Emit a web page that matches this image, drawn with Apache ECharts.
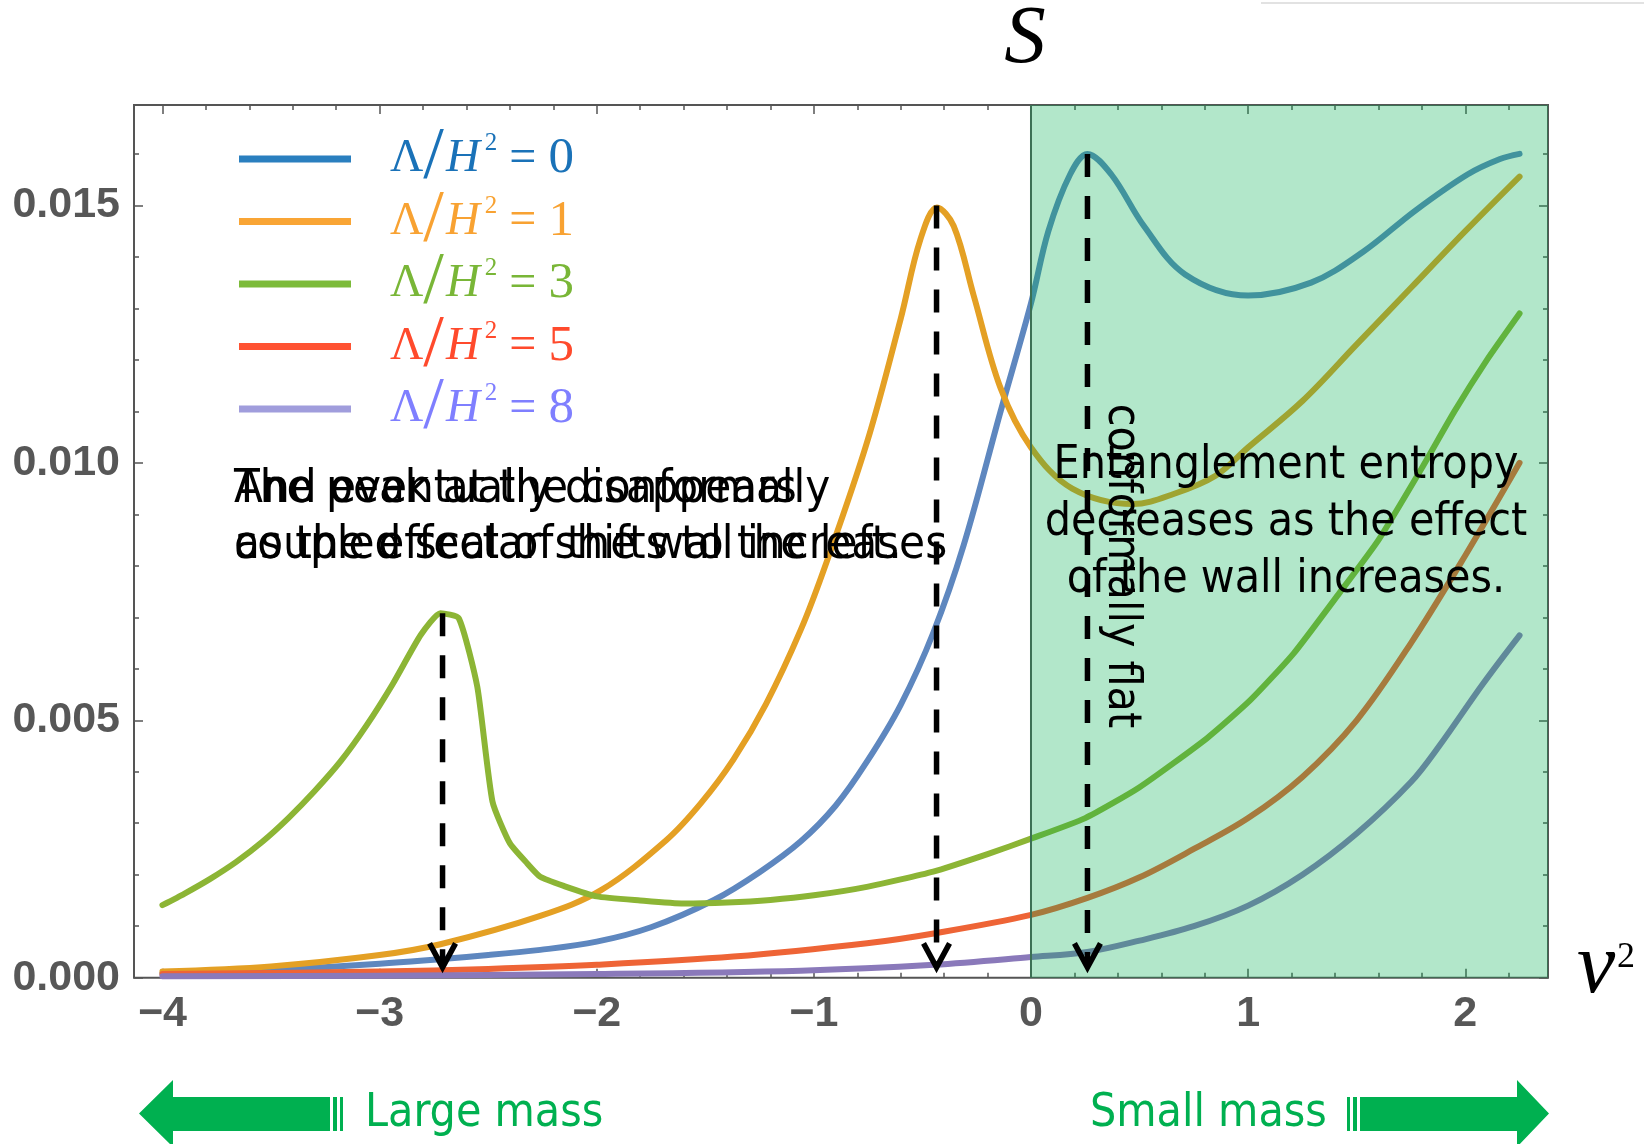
<!DOCTYPE html>
<html>
<head>
<meta charset="utf-8">
<script src="https://cdn.jsdelivr.net/npm/echarts@6/dist/echarts.min.js"></script>
<style>
html,body{margin:0;padding:0;background:#ffffff;}
#chart{width:1644px;height:1144px;}
</style>
</head>
<body>
<div id="chart"></div>
<script>
// ---------------- data ----------------
const lambdaValues = ['0', '1', '3', '5', '8'];
const seriesNames = ['Λ/H²=0', 'Λ/H²=1', 'Λ/H²=3', 'Λ/H²=5', 'Λ/H²=8'];

const blueX = [-4, -3.5, -3, -2.5, -2.26, -2, -1.75, -1.46, -1.25, -1.06, -0.9, -0.755, -0.6, -0.45, -0.31, -0.14, 0, 0.08, 0.18, 0.26, 0.37, 0.52, 0.71, 1.0, 1.29, 1.53, 1.77, 2.01, 2.16, 2.25];
const blueY = [0.00008, 0.00015, 0.00027, 0.00044, 0.00054, 0.0007, 0.00098, 0.00151, 0.00205, 0.00265, 0.00334, 0.0042, 0.0053, 0.0067, 0.0084, 0.0110, 0.0131, 0.0145, 0.0156, 0.0160, 0.0156, 0.0146, 0.01366, 0.01325, 0.0135, 0.0141, 0.0149, 0.0156, 0.0159, 0.0160];

const orangeX = [-4, -3.5, -3, -2.72, -2.26, -1.98, -1.68, -1.52, -1.37, -1.22, -1.06, -0.94, -0.755, -0.6, -0.51, -0.433, -0.356, -0.264, -0.14, 0, 0.19, 0.47, 0.66, 0.85, 1.0, 1.25, 1.5, 1.75, 2.0, 2.25];
const orangeY = [0.00012, 0.00022, 0.00044, 0.00065, 0.0012, 0.0017, 0.00267, 0.00339, 0.00424, 0.00532, 0.00676, 0.00809, 0.0104, 0.0128, 0.01433, 0.01496, 0.0146, 0.01325, 0.01145, 0.0103, 0.0095, 0.0092, 0.0094, 0.00975, 0.0103, 0.0112, 0.0123, 0.0134, 0.0145, 0.01556];

const greenX = [-4, -3.9, -3.78, -3.66, -3.54, -3.42, -3.3, -3.18, -3.06, -2.94, -2.81, -2.72, -2.635, -2.55, -2.48, -2.40, -2.32, -2.26, -2.15, -2.0, -1.8, -1.6, -1.4, -1.2, -1.0, -0.75, -0.45, -0.2, 0, 0.25, 0.5, 0.81, 1.01, 1.21, 1.42, 1.6, 1.8, 1.95, 2.1, 2.25];
const greenY = [0.00141, 0.00163, 0.00192, 0.00225, 0.00264, 0.0031, 0.00362, 0.0042, 0.0049, 0.0057, 0.00666, 0.00708, 0.00698, 0.00565, 0.00342, 0.00261, 0.00222, 0.00196, 0.00178, 0.00158, 0.0015, 0.00144, 0.00146, 0.00151, 0.0016, 0.00177, 0.00206, 0.0024, 0.0027, 0.0031, 0.0037, 0.00465, 0.00539, 0.0063, 0.00747, 0.0085, 0.0099, 0.0110, 0.0120, 0.0129];

const redX = [-4, -3, -2.5, -2, -1.37, -0.755, -0.448, 0, 0.26, 0.5, 0.75, 1.0, 1.25, 1.5, 1.75, 2.0, 2.25];
const redY = [0.00007, 0.00012, 0.00017, 0.00025, 0.00041, 0.00067, 0.00086, 0.00122, 0.00155, 0.00195, 0.0025, 0.0031, 0.0039, 0.0050, 0.0065, 0.0082, 0.0100];

const purpleX = [-4, -3, -2, -1.06, -0.448, 0, 0.26, 0.5, 0.75, 1.0, 1.25, 1.5, 1.75, 1.88, 2.08, 2.25];
const purpleY = [0.00003, 0.00004, 0.00007, 0.000136, 0.00025, 0.0004, 0.0005, 0.00072, 0.001, 0.0014, 0.002, 0.0028, 0.0038, 0.0045, 0.0057, 0.00665];

// dashed arrows: x position, peak value, tip value
const arrowX = [-2.71, -0.435, 0.26];
const arrowTop = [0.00708, 0.0150, 0.0160];
const arrowTip = [0.0002, 0.0002, 0.0002];

// shaded region starts at
const shadeFrom = [0];

// axis ticks
const xTickLabels = [-4, -3, -2, -1, 0, 1, 2];
const yTickLabels = [0, 0.005, 0.010, 0.015];

// ---------------- styling ----------------
const xMin = -4.131, xMax = 2.381, yMin = 0, yMax = 0.01695;
const lineColors = ['#5e87bf', '#e4a024', '#8cb535', '#ee6436', '#8a79ba'];
const legendLineColors = ['#2a7fbf', '#f9a535', '#7cbb3a', '#ff5232', '#a09ddc'];
const legendTextColors = ['#1a72b8', '#f8a232', '#79b637', '#ff4a2c', '#7f7fff'];

const xMinor = [];
for (let k = -20; k <= 11; k++) { if (k % 5 !== 0) xMinor.push(+(k * 0.2).toFixed(1)); }
const yMinor = [];
for (let k = 1; k <= 16; k++) { if (k % 5 !== 0) yMinor.push(+(k * 0.001).toFixed(3)); }

const SERIF = "'Liberation Serif', 'Times New Roman', Times, serif";
const SANS = "'Liberation Sans', Arial, sans-serif";
const NOTE = "'DejaVu Sans Condensed', 'DejaVu Sans', sans-serif";

function zip(xs, ys) { return xs.map((x, i) => [x, ys[i]]); }

function richFor(color) {
  return {
    L: { fontFamily: SERIF, fontSize: 46, color: color, padding: [0, 0, 0, 34], lineHeight: 56 },
    s: { fontFamily: SERIF, fontSize: 74, color: color, lineHeight: 56 },
    H: { fontFamily: SERIF, fontStyle: 'italic', fontSize: 47, color: color, lineHeight: 56, padding: [0, 0, 0, 2] },
    p: { fontFamily: SERIF, fontSize: 25, color: color, verticalAlign: 'top', lineHeight: 30, padding: [0, 0, 0, 5] },
    e: { fontFamily: SERIF, fontSize: 48, color: color, lineHeight: 56 },
    n: { fontFamily: SERIF, fontSize: 51, color: color, lineHeight: 56 }
  };
}

function xAxisDef(position, values, len, labels) {
  return {
    type: 'value', position: position, min: xMin, max: xMax, gridIndex: 0,
    axisLine: { show: false, onZero: false }, splitLine: { show: false },
    axisTick: { show: true, inside: true, length: len, customValues: values, lineStyle: { color: '#555', width: 1.5 } },
    axisLabel: labels ? {
      show: true, customValues: xTickLabels, margin: 15,
      fontFamily: SANS, fontWeight: 'bold', fontSize: 43, color: '#575757',
      formatter: v => (v < 0 ? '\u2212' + Math.abs(v) : String(v))
    } : { show: false }
  };
}
function yAxisDef(position, values, len, labels) {
  return {
    type: 'value', position: position, min: yMin, max: yMax, gridIndex: 0,
    axisLine: { show: false, onZero: false }, splitLine: { show: false },
    axisTick: { show: true, inside: true, length: len, customValues: values, lineStyle: { color: '#555', width: 1.5 } },
    axisLabel: labels ? {
      show: true, customValues: yTickLabels, margin: 14,
      fontFamily: SANS, fontWeight: 'bold', fontSize: 43, color: '#575757',
      formatter: v => v.toFixed(3)
    } : { show: false }
  };
}

const seriesData = [zip(blueX, blueY), zip(orangeX, orangeY), zip(greenX, greenY), zip(redX, redY), zip(purpleX, purpleY)];
const smoothing = [0.35, 0.35, 0.18, 0.35, 0.35];

const lineSeries = seriesData.map((d, i) => ({
  type: 'line', name: seriesNames[i], data: d, xAxisIndex: 0, yAxisIndex: 0,
  showSymbol: false, symbol: 'none', smooth: smoothing[i], z: 2,
  lineStyle: { color: lineColors[i], width: 6, join: 'round', cap: 'round' },
  itemStyle: { color: lineColors[i] },
  emphasis: { disabled: true }, silent: true
}));

const shadeSeries = {
  type: 'custom', name: 'shade', xAxisIndex: 0, yAxisIndex: 0, z: 5, silent: true,
  data: shadeFrom.map(v => [v, 0]),
  encode: { x: 0, y: 1 },
  renderItem: function (params, api) {
    const cs = params.coordSys;
    const p = api.coord([api.value(0), 0]);
    const right = cs.x + cs.width;
    return {
      type: 'group', children: [
        { type: 'rect', shape: { x: p[0], y: cs.y, width: right - p[0], height: cs.height }, style: { fill: 'rgba(0,176,80,0.3)' } },
        { type: 'line', shape: { x1: p[0], y1: cs.y, x2: p[0], y2: cs.y + cs.height }, style: { stroke: '#3c7054', lineWidth: 2 } }
      ]
    };
  }
};

const arrowSeries = {
  type: 'custom', name: 'arrows', xAxisIndex: 0, yAxisIndex: 0, z: 8, silent: true,
  data: arrowX.map((x, i) => [x, arrowTop[i], arrowTip[i]]),
  encode: { x: 0, y: [1, 2] },
  renderItem: function (params, api) {
    const top = api.coord([api.value(0), api.value(1)]);
    const tip = api.coord([api.value(0), api.value(2)]);
    return {
      type: 'group', children: [
        { type: 'line', shape: { x1: top[0], y1: top[1], x2: tip[0], y2: tip[1] - 3 },
          style: { stroke: '#000', lineWidth: 5.5, lineDash: [23, 19], lineCap: 'butt' } },
        { type: 'polyline', shape: { points: [[tip[0] - 13, tip[1] - 24], [tip[0], tip[1]], [tip[0] + 13, tip[1] - 24]] },
          style: { stroke: '#000', lineWidth: 5.5, fill: null, lineJoin: 'miter' } }
      ]
    };
  }
};

const G = '#00b050';
const graphics = [
  { type: 'line', shape: { x1: 1261, y1: 3, x2: 1644, y2: 3 }, style: { stroke: '#e2e2e2', lineWidth: 2 }, z: 1 },
  { type: 'text', x: 1025, y: 40, z: 100, style: { text: 'S', fontFamily: SERIF, fontStyle: 'italic', fontSize: 83, fill: '#000', align: 'center', verticalAlign: 'middle' } },
  { type: 'text', x: 1577, y: 969, z: 100, style: { text: 'ν', fontFamily: SERIF, fontStyle: 'italic', fontSize: 86, fill: '#000', align: 'left', verticalAlign: 'middle' } },
  { type: 'text', x: 1617, y: 958, z: 100, style: { text: '2', fontFamily: SERIF, fontSize: 36, fill: '#000', align: 'left', verticalAlign: 'middle' } },
  { type: 'text', x: 234, y: 462, z: 100, style: { text: 'The peak at the conformally\ncoupled scalar shifts to the left.', fontFamily: NOTE, fontSize: 47, lineHeight: 56, fill: '#000', align: 'left', verticalAlign: 'top' } },
  { type: 'text', x: 234, y: 462, z: 100, style: { text: 'And eventually disappears\nas the effect of the wall increases', fontFamily: NOTE, fontSize: 47, lineHeight: 56, fill: '#000', align: 'left', verticalAlign: 'top' } },
  { type: 'text', x: 1286, y: 438, z: 100, style: { text: 'Entanglement entropy\ndecreases as the effect\nof the wall increases.', fontFamily: NOTE, fontSize: 46, lineHeight: 56.7, fill: '#000', align: 'center', verticalAlign: 'top' } },
  { type: 'text', x: 1121, y: 566, rotation: -Math.PI / 2, z: 100, style: { text: 'conformally flat', fontFamily: NOTE, fontSize: 46, fill: '#000', align: 'center', verticalAlign: 'middle' } },
  // bottom arrows
  { type: 'polygon', z: 50, shape: { points: [[139, 1113.5], [173, 1080], [173, 1097], [330, 1097], [330, 1131], [173, 1131], [173, 1147]] }, style: { fill: G } },
  { type: 'rect', z: 50, shape: { x: 333, y: 1097, width: 4, height: 34 }, style: { fill: G } },
  { type: 'rect', z: 50, shape: { x: 340, y: 1097, width: 3, height: 34 }, style: { fill: G } },
  { type: 'text', x: 365, y: 1114, z: 100, style: { text: 'Large mass', fontFamily: NOTE, fontSize: 46, fill: G, align: 'left', verticalAlign: 'middle' } },
  { type: 'text', x: 1090, y: 1114, z: 100, style: { text: 'Small mass', fontFamily: NOTE, fontSize: 46, fill: G, align: 'left', verticalAlign: 'middle' } },
  { type: 'rect', z: 50, shape: { x: 1347, y: 1097, width: 3, height: 34 }, style: { fill: G } },
  { type: 'rect', z: 50, shape: { x: 1353, y: 1097, width: 4, height: 34 }, style: { fill: G } },
  { type: 'polygon', z: 50, shape: { points: [[1549, 1113.5], [1517, 1080], [1517, 1097], [1360, 1097], [1360, 1131], [1517, 1131], [1517, 1147]] }, style: { fill: G } }
];

const chart = echarts.init(document.getElementById('chart'), null, { renderer: 'canvas' });
chart.setOption({
  animation: false,
  backgroundColor: '#ffffff',
  grid: { left: 134, top: 105, width: 1414, height: 872.7, show: true, borderColor: '#555', borderWidth: 2, backgroundColor: 'transparent', containLabel: false, outerBoundsMode: 'none' },
  xAxis: [
    xAxisDef('bottom', xTickLabels, 9, true),
    xAxisDef('bottom', xMinor, 5, false),
    xAxisDef('top', xTickLabels, 9, false),
    xAxisDef('top', xMinor, 5, false)
  ],
  yAxis: [
    yAxisDef('left', yTickLabels, 9, true),
    yAxisDef('left', yMinor, 5, false),
    yAxisDef('right', yTickLabels, 9, false),
    yAxisDef('right', yMinor, 5, false)
  ],
  legend: {
    show: true, orient: 'vertical', left: 239, top: 122, padding: 0,
    itemWidth: 112, itemHeight: 7, itemGap: -11.5, selectedMode: false, icon: 'rect',
    data: seriesNames.map((n, i) => ({
      name: n, icon: 'rect',
      itemStyle: { color: legendLineColors[i], borderWidth: 0 },
      textStyle: { color: legendTextColors[i], rich: richFor(legendTextColors[i]) }
    })),
    formatter: function (name) {
      const i = seriesNames.indexOf(name);
      return '{L|Λ}{s|/}{H|H}{p|2}{e| = }{n|' + lambdaValues[i] + '}';
    }
  },
  graphic: graphics,
  series: lineSeries.concat([shadeSeries, arrowSeries])
});
</script>
</body>
</html>
